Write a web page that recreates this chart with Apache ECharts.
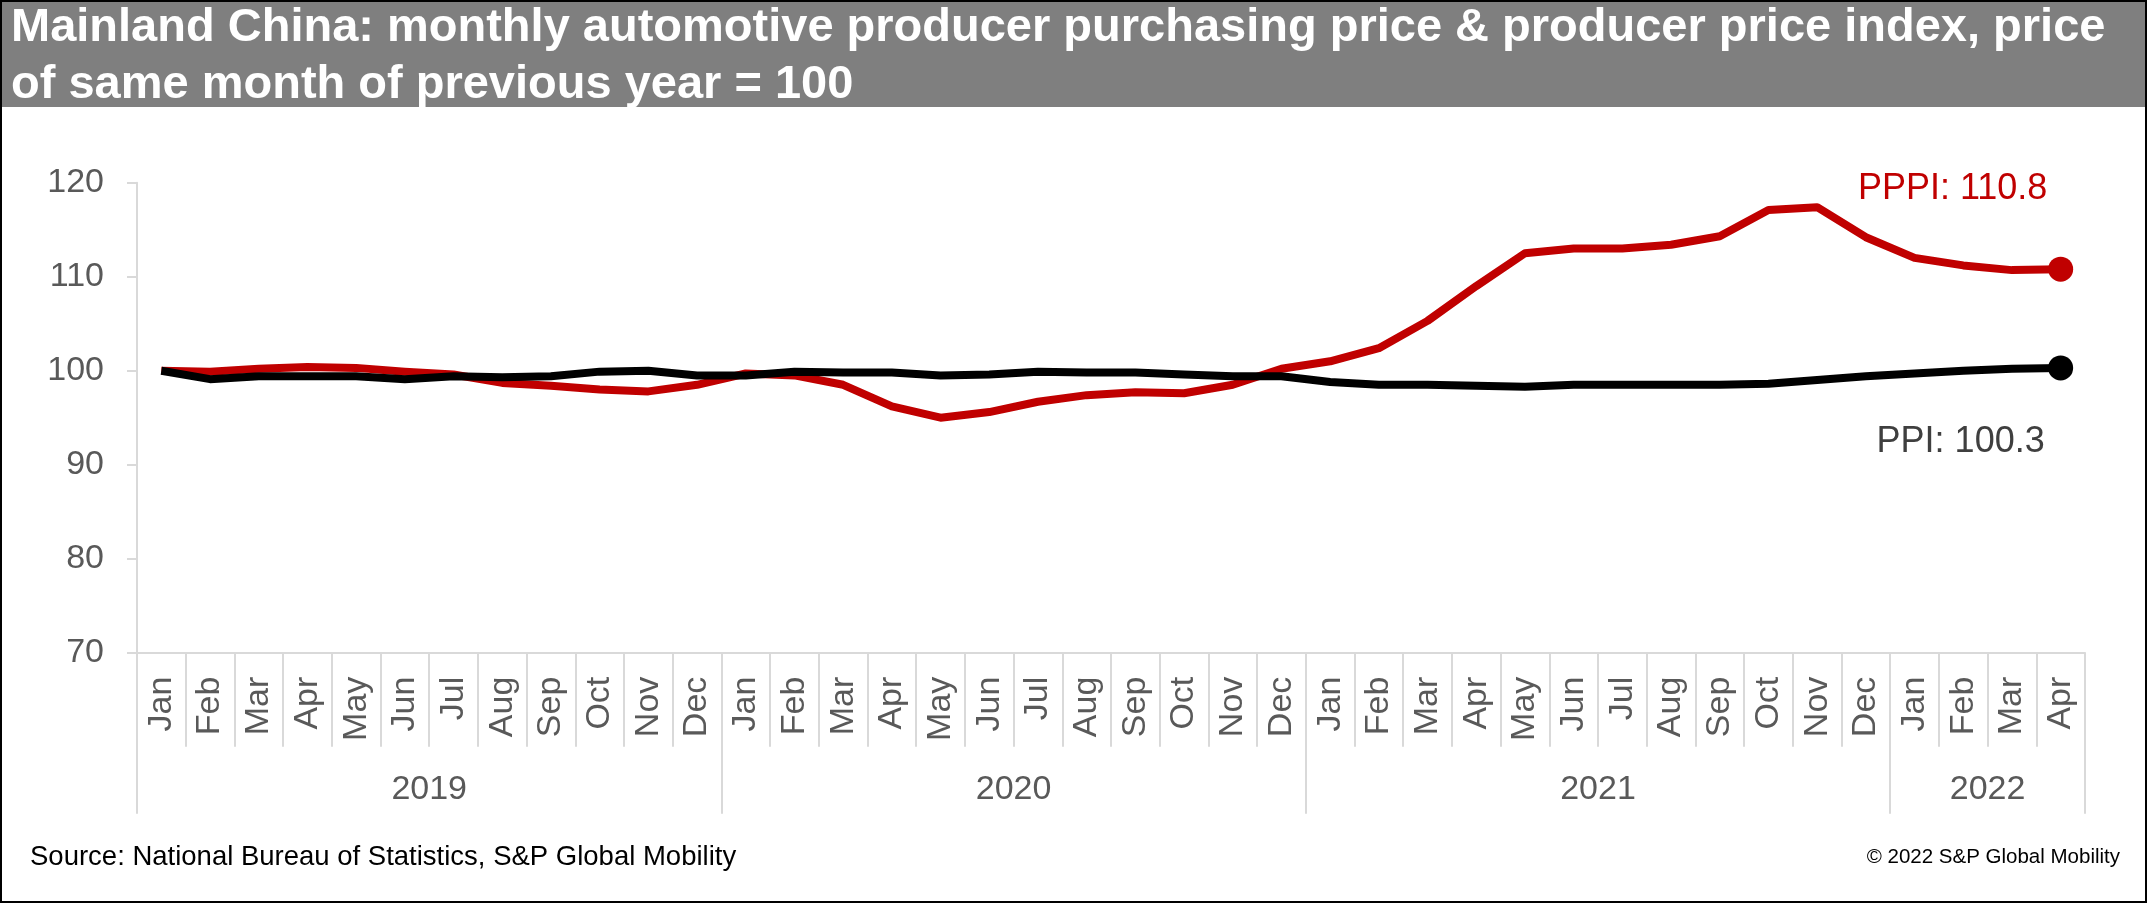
<!DOCTYPE html>
<html>
<head>
<meta charset="utf-8">
<title>Mainland China PPPI & PPI</title>
<script src="https://cdn.jsdelivr.net/npm/echarts@6/dist/echarts.min.js"></script>
<style>
  html, body { margin: 0; padding: 0; background: #fff; }
  #chart { width: 2147px; height: 903px; }
</style>
</head>
<body>
<div id="chart"></div>
<script>
// data (Jan 2019 - Apr 2022)
const months = [
  'Jan', 'Feb', 'Mar', 'Apr', 'May', 'Jun', 'Jul', 'Aug', 'Sep', 'Oct', 'Nov', 'Dec',
  'Jan', 'Feb', 'Mar', 'Apr', 'May', 'Jun', 'Jul', 'Aug', 'Sep', 'Oct', 'Nov', 'Dec',
  'Jan', 'Feb', 'Mar', 'Apr', 'May', 'Jun', 'Jul', 'Aug', 'Sep', 'Oct', 'Nov', 'Dec',
  'Jan', 'Feb', 'Mar', 'Apr'
];
const years = ['2019', '2020', '2021', '2022'];
const yearMonthCounts = [12, 12, 12, 4];

const pppi = [
  100.0, 99.9, 100.2, 100.4, 100.3, 99.9, 99.6, 98.7, 98.4, 98.0, 97.8, 98.5,
  99.7, 99.5, 98.5, 96.2, 95.0, 95.6, 96.7, 97.4, 97.7, 97.6, 98.5, 100.2,
  101.0, 102.4, 105.3, 109.0, 112.5, 113.0, 113.0, 113.4, 114.3, 117.1, 117.4, 114.2,
  112.0, 111.2, 110.7, 110.8
];
const ppi = [
  100.0, 99.1, 99.4, 99.4, 99.4, 99.1, 99.4, 99.3, 99.4, 99.9, 100.0, 99.5,
  99.5, 99.9, 99.8, 99.8, 99.5, 99.6, 99.9, 99.8, 99.8, 99.6, 99.4, 99.4,
  98.8, 98.5, 98.5, 98.4, 98.3, 98.5, 98.5, 98.5, 98.5, 98.6, 99.0, 99.4,
  99.7, 100.0, 100.2, 100.3
];

const yTicks = [70, 80, 90, 100, 110, 120];

const titleText = 'Mainland China: monthly automotive producer purchasing price & producer price index, price\nof same month of previous year = 100';
const sourceText = 'Source: National Bureau of Statistics, S&P Global Mobility';
const copyrightText = '\u00a9 2022 S&P Global Mobility';

const FONT = '"Liberation Sans", Arial, sans-serif';
const GRID_LINE = '#d9d9d9';
const LABEL_GREY = '#595959';

// year boundaries and centres on a 0..40 value scale that overlays the month axis
const yearBounds = [0];
yearMonthCounts.forEach((n) => yearBounds.push(yearBounds[yearBounds.length - 1] + n));
const yearCenters = years.map((y, i) => (yearBounds[i] + yearBounds[i + 1]) / 2);

const last = months.length - 1;

function withEndLabel(values, prefix, color, offset) {
  return values.map((v, i) => {
    if (i !== last) return v;
    return {
      value: v,
      label: {
        show: true,
        position: 'inside',
        offset: offset,
        formatter: prefix + v.toFixed(1),
        color: color,
        fontSize: 36,
        fontFamily: FONT,
      },
    };
  });
}

const chart = echarts.init(document.getElementById('chart'));

const option = {
  animation: false,
  backgroundColor: '#fff',
  textStyle: { fontFamily: FONT },

  graphic: [
    {
      type: 'rect',
      z: 0,
      shape: { x: 0, y: 0, width: 2147, height: 107 },
      style: { fill: '#7f7f7f' },
    },
    {
      type: 'rect',
      z: 100,
      shape: { x: 1, y: 1, width: 2145, height: 901 },
      style: { fill: 'none', stroke: '#000', lineWidth: 2 },
    },
  ],

  title: [
    {
      text: titleText,
      left: 11,
      top: 0,
      padding: 0,
      textStyle: {
        color: '#fff',
        fontSize: 47,
        fontWeight: 'bold',
        lineHeight: 57,
        fontFamily: FONT,
      },
    },
    {
      text: sourceText,
      left: 30,
      top: 843,
      padding: 0,
      textStyle: { color: '#000', fontSize: 27.5, fontWeight: 'normal', fontFamily: FONT },
    },
    {
      text: copyrightText,
      right: 27,
      top: 847,
      padding: 0,
      textStyle: { color: '#000', fontSize: 20.5, fontWeight: 'normal', fontFamily: FONT },
    },
  ],

  grid: {
    left: 137,
    right: 62,
    top: 182.7,
    bottom: 250.3,
    containLabel: false,
  },

  xAxis: [
    {
      type: 'category',
      data: months,
      boundaryGap: true,
      axisLine: { show: true, lineStyle: { color: GRID_LINE, width: 2 } },
      axisTick: { show: true, length: 94, lineStyle: { color: GRID_LINE, width: 2 } },
      axisLabel: {
        interval: 0,
        rotate: 90,
        margin: 24,
        fontSize: 34,
        color: LABEL_GREY,
        fontFamily: FONT,
      },
      splitLine: { show: false },
    },
    {
      // year grouping row
      type: 'value',
      position: 'bottom',
      min: 0,
      max: months.length,
      axisLine: { show: false },
      splitLine: { show: false },
      axisTick: {
        show: true,
        customValues: yearBounds,
        length: 161,
        lineStyle: { color: GRID_LINE, width: 2 },
      },
      axisLabel: {
        show: true,
        customValues: yearCenters,
        formatter: (v) => years[yearCenters.indexOf(v)] || '',
        margin: 120,
        fontSize: 34,
        color: LABEL_GREY,
        fontFamily: FONT,
      },
    },
  ],

  yAxis: {
    type: 'value',
    min: yTicks[0],
    max: yTicks[yTicks.length - 1],
    interval: 10,
    axisLine: { show: true, lineStyle: { color: GRID_LINE, width: 2 } },
    axisTick: { show: true, length: 10, lineStyle: { color: GRID_LINE, width: 2 } },
    axisLabel: { fontSize: 34, color: LABEL_GREY, margin: 33, fontFamily: FONT },
    splitLine: { show: false },
  },

  series: [
    {
      name: 'PPPI',
      type: 'line',
      xAxisIndex: 0,
      data: withEndLabel(pppi, 'PPPI: ', '#c00000', [-108, -80]),
      symbol: 'circle',
      symbolSize: (val, p) => (p.dataIndex === last ? 25 : 0),
      showSymbol: true,
      lineStyle: { color: '#c00000', width: 8, join: 'round' },
      itemStyle: { color: '#c00000' },
      emphasis: { disabled: true },
      z: 2,
    },
    {
      name: 'PPI',
      type: 'line',
      xAxisIndex: 0,
      data: withEndLabel(ppi, 'PPI: ', '#3f3f3f', [-100, 74]),
      symbol: 'circle',
      symbolSize: (val, p) => (p.dataIndex === last ? 25 : 0),
      showSymbol: true,
      lineStyle: { color: '#000000', width: 8, join: 'round' },
      itemStyle: { color: '#000000' },
      emphasis: { disabled: true },
      z: 3,
    },
  ],
};

chart.setOption(option);
window.addEventListener('resize', () => chart.resize());
</script>
</body>
</html>
